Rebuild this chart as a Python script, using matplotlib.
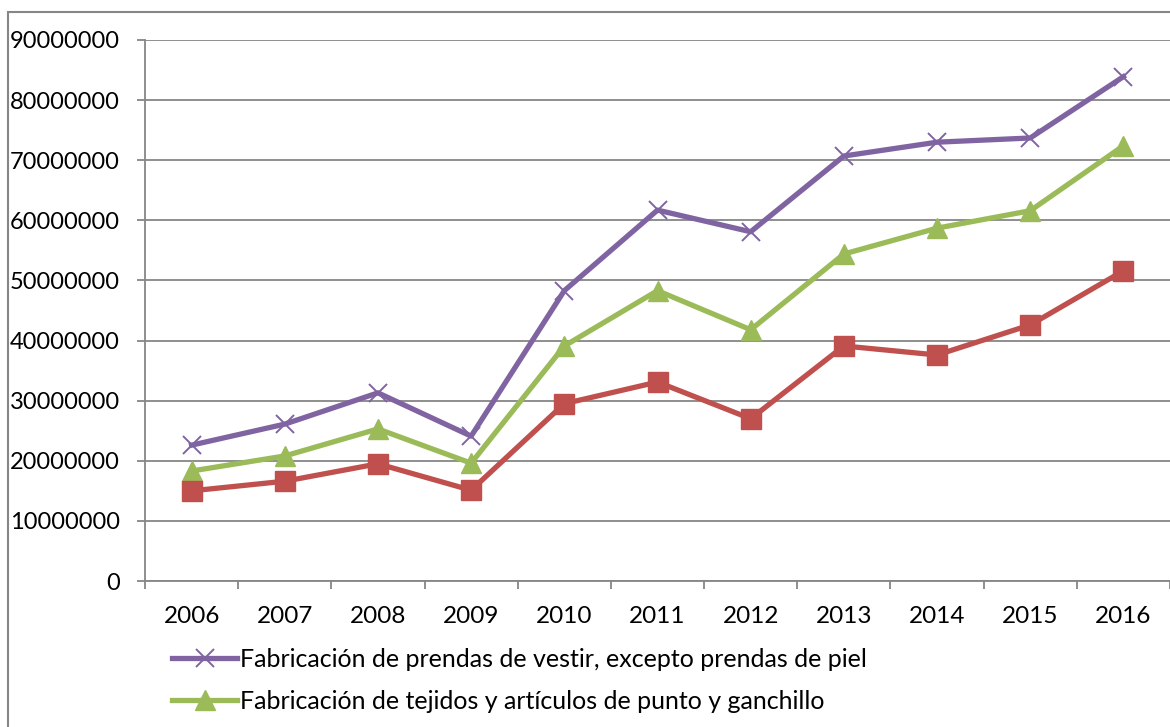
import matplotlib
matplotlib.use("Agg")
import matplotlib.pyplot as plt
from matplotlib.patches import Rectangle

plt.rcParams["font.family"] = ["Lato", "DejaVu Sans"]

# Datos
years = ["2006", "2007", "2008", "2009", "2010", "2011", "2012", "2013", "2014", "2015", "2016"]
vestir = [22.6, 26.1, 31.3, 24.1, 48.3, 61.7, 58.1, 70.7, 73.0, 73.7, 83.9]
punto = [18.3, 20.8, 25.3, 19.6, 39.1, 48.3, 41.8, 54.4, 58.7, 61.6, 72.4]
otros = [15.0, 16.6, 19.5, 15.1, 29.5, 33.1, 27.0, 39.1, 37.6, 42.6, 51.6]
vestir = [v * 1e6 for v in vestir]
punto = [v * 1e6 for v in punto]
otros = [v * 1e6 for v in otros]

lab_vestir = "Fabricación de prendas de vestir, excepto prendas de piel"
lab_punto = "Fabricación de tejidos y artículos de punto y ganchillo"

grid_col = "#868686"

fig = plt.figure(figsize=(11.7, 7.27), dpi=100)
ax = fig.add_axes([145 / 1170, 1 - 581 / 727, 1 - 145 / 1170, (581 - 40) / 727])

# marco exterior
fig.patches.append(Rectangle((8 / 1170, -0.05), 1.2, 1 - 12 / 727 + 0.05,
                             transform=fig.transFigure, fill=False,
                             edgecolor=grid_col, linewidth=1.5))

x = list(range(len(years)))
ax.plot(x, vestir, color="#8064A2", lw=3.8, marker="x", ms=13, mew=1.4,
        label=lab_vestir, zorder=3)
ax.plot(x, punto, color="#9BBB59", lw=3.8, marker="^", ms=15,
        label=lab_punto, zorder=3)
ax.plot(x, otros, color="#C0504D", lw=3.8, marker="s", ms=14,
        label="_nolegend_", zorder=3)

ax.set_xlim(-0.5, len(years) - 0.5)
ax.set_ylim(0, 90000000)
ax.set_yticks(range(0, 90000001, 10000000))
ax.set_yticklabels([str(v) for v in range(0, 90000001, 10000000)])
ax.set_xticks(x)
ax.set_xticklabels(years)
ax.set_xticks([i - 0.5 for i in range(len(years) + 1)], minor=True)

ax.grid(axis="y", color=grid_col, linewidth=1.3)
ax.set_axisbelow(True)
for s in ["top", "right"]:
    ax.spines[s].set_visible(False)
for s in ["left", "bottom"]:
    ax.spines[s].set_color(grid_col)
    ax.spines[s].set_linewidth(1.3)

ax.tick_params(axis="y", length=6, color=grid_col, width=1.3, labelsize=17, pad=12)
ax.tick_params(axis="x", which="major", length=0, labelsize=17.5, pad=18)
ax.tick_params(axis="x", which="minor", length=6, color=grid_col, width=1.3)

ax.legend(loc="upper left", bbox_to_anchor=(172 / 1170, 1 - 648 / 727),
          bbox_transform=fig.transFigure, frameon=False, fontsize=18,
          handlelength=2.6, handletextpad=0.1, labelspacing=0.75,
          borderaxespad=0, borderpad=0)

plt.savefig("out.png", dpi=100)
